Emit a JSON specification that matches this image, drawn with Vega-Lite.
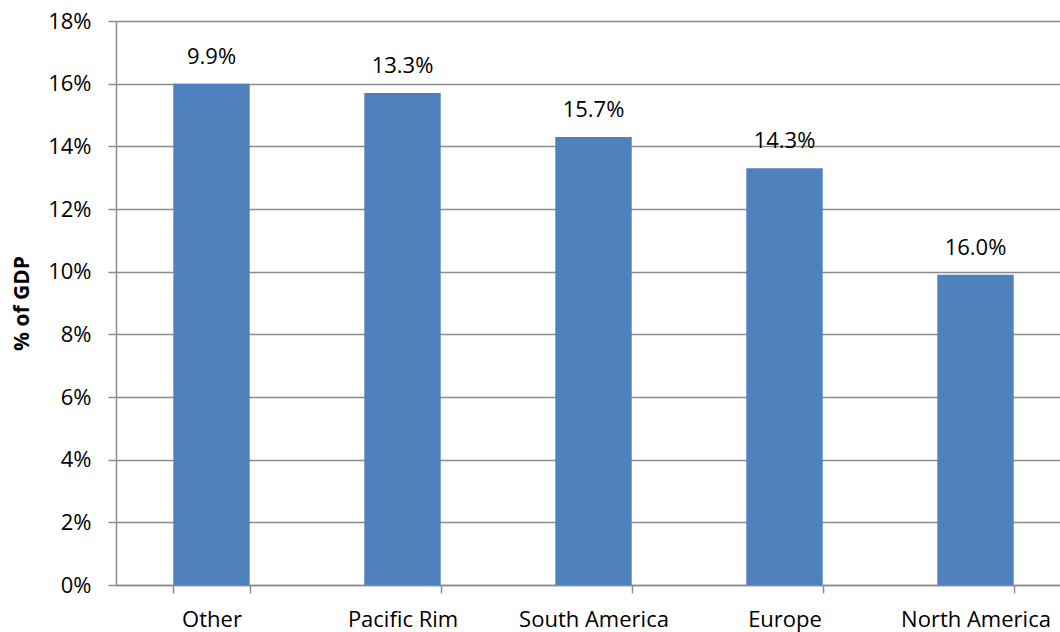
{
  "$schema": "https://vega.github.io/schema/vega-lite/v6.json",
  "width": 944,
  "height": 564,
  "autosize": {"type": "none"},
  "padding": {"left": 116, "top": 21, "right": 0, "bottom": 47},
  "background": "white",
  "config": {"view": {"stroke": null}, "font": "Open Sans"},
  "data": {"values": [
    {"region": "Other", "value": 16.0, "label": "9.9%"},
    {"region": "Pacific Rim", "value": 15.7, "label": "13.3%"},
    {"region": "South America", "value": 14.3, "label": "15.7%"},
    {"region": "Europe", "value": 13.3, "label": "14.3%"},
    {"region": "North America", "value": 9.9, "label": "16.0%"}
  ]},
  "encoding": {
    "x": {"field": "region", "type": "nominal", "sort": null,
      "scale": {"paddingInner": 0.6, "paddingOuter": 0.3, "range": [0, 955]},
      "axis": {"title": null, "labelAngle": 0, "labelFontSize": 22, "labelColor": "#000", "labelPadding": 16,
        "tickBand": "extent", "tickSize": 8, "tickColor": "#8c8c8c", "domainColor": "#8c8c8c", "domainWidth": 1.5, "tickWidth": 1.5, "grid": false}},
    "y": {"field": "value", "type": "quantitative",
      "scale": {"domain": [0, 18], "nice": false},
      "axis": {"title": "% of GDP", "titleFontSize": 21, "titleFontWeight": "bold", "titleColor": "#000", "titlePadding": 15,
        "values": [0, 2, 4, 6, 8, 10, 12, 14, 16, 18], "labelExpr": "datum.value + '%'",
        "labelFontSize": 22, "labelColor": "#000", "labelPadding": 17, "tickSize": 8, "tickColor": "#8c8c8c", "tickWidth": 1.5,
        "domainColor": "#8c8c8c", "domainWidth": 1.5, "grid": true, "gridColor": "#8c8c8c", "gridWidth": 1.5}}
  },
  "layer": [
    {"mark": {"type": "bar", "color": "#4F81BD"}},
    {"mark": {"type": "text", "baseline": "middle", "dy": -27, "fontSize": 22, "color": "#000"},
      "encoding": {"text": {"field": "label"}}}
  ]
}
